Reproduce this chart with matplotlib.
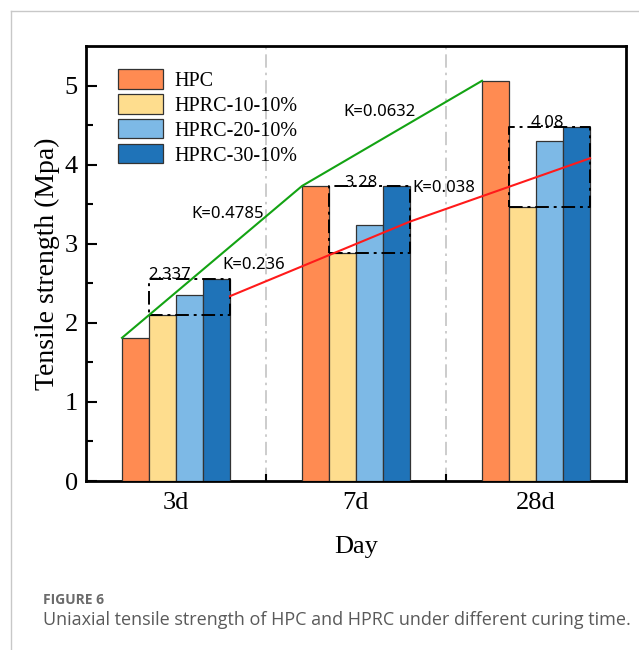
import numpy as np
import matplotlib
matplotlib.use('Agg')
import matplotlib.pyplot as plt
from matplotlib.lines import Line2D

# Data
days = ['3d', '7d', '28d']
day_num = [3, 7, 28]
series_names = ['HPC', 'HPRC-10-10%', 'HPRC-20-10%', 'HPRC-30-10%']
hpc = [1.81, 3.73, 5.06]
hprc_10 = [2.10, 2.88, 3.47]
hprc_20 = [2.35, 3.24, 4.30]
hprc_30 = [2.56, 3.73, 4.48]
hprc_mean_labels = ['2.337', '3.28', '4.08']
green_k = ['K=0.4785', 'K=0.0632']
red_k = ['K=0.236', 'K=0.038']

colors = ['#FF8B52', '#FEDD8E', '#7DB9E6', '#1F73B8']
serif = 'Liberation Serif'
sans = 'Noto Sans'

fig = plt.figure(figsize=(6.39, 6.50), dpi=100)
ax = fig.add_axes([86 / 639, 1 - 481 / 650, 540 / 639, 435 / 650])

x = np.arange(len(days))
width = 0.15
all_series = [hpc, hprc_10, hprc_20, hprc_30]
for i, (vals, c, name) in enumerate(zip(all_series, colors, series_names)):
    ax.bar(x + (i - 1.5) * width, vals, width, color=c, edgecolor='#333333',
           linewidth=0.9, label=name, zorder=3)

# group separators
for xs in [0.5, 1.5]:
    ax.axvline(xs, color='#c4c4c4', lw=1.2, ls=(0, (8, 3, 1.5, 3)), zorder=1)

# min-max boxes for HPRC groups
hprc = np.array([hprc_10, hprc_20, hprc_30])
hmin, hmax = hprc.min(axis=0), hprc.max(axis=0)
hmean = np.array([float(s) for s in hprc_mean_labels])
dd = (0, (7, 2.5, 1.5, 2.5))
for i in range(len(days)):
    x0, x1 = i - width, i + 2 * width
    ax.plot([x0, x1, x1, x0, x0], [hmin[i], hmin[i], hmax[i], hmax[i], hmin[i]],
            color='black', lw=1.4, ls=dd, zorder=4)

# trend lines
ax.plot(x - 2 * width, hpc, color='#13A313', lw=1.5, zorder=5)
ax.plot(x + 2 * width, hmean, color='#FF1A1A', lw=1.5, zorder=5)

# labels on boxes
box_lab_dx = [-0.11, -0.05, -0.01]
for i, lab in enumerate(hprc_mean_labels):
    ax.text(i + 0.075 + box_lab_dx[i], hmax[i] - 0.01, lab, ha='center', va='baseline',
            fontsize=12, family=sans, zorder=6)

k_pos = [(0.289, 3.37), (1.133, 4.66)]
for (kx, ky), lab in zip(k_pos, green_k):
    ax.text(kx, ky, lab, ha='center', va='center', fontsize=12, family=sans, zorder=6)
k_pos = [(0.433, 2.73), (1.489, 3.71)]
for (kx, ky), lab in zip(k_pos, red_k):
    ax.text(kx, ky, lab, ha='center', va='center', fontsize=12, family=sans, zorder=6)

ax.set_xlim(-0.5, 2.5)
ax.set_ylim(0, 5.5)
ax.set_xticks(x)
ax.set_xticklabels(days, family=serif, fontsize=19)
ax.set_xticks([0.5, 1.5], minor=True)
ax.set_yticks(range(6))
ax.set_yticklabels([str(v) for v in range(6)], family=serif, fontsize=19)
ax.set_yticks(np.arange(0.5, 5.5, 1.0), minor=True)
ax.tick_params(axis='x', which='major', length=0, pad=8)
ax.tick_params(axis='x', which='minor', direction='in', length=5, width=1.5)
ax.tick_params(axis='y', which='major', direction='in', length=8, width=1.5, pad=6)
ax.tick_params(axis='y', which='minor', direction='in', length=5, width=1.5)
for sp in ax.spines.values():
    sp.set_linewidth(2)
ax.set_xlabel('Day', family=serif, fontsize=19, labelpad=16)
ax.set_ylabel('Tensile strength (Mpa)', family=serif, fontsize=20, labelpad=3)

leg = ax.legend(loc='upper left', bbox_to_anchor=(0.045, 0.965), frameon=False,
                prop={'family': serif, 'size': 14.5}, handlelength=2.2, handleheight=1.1,
                labelspacing=0.17, handletextpad=0.6, borderaxespad=0)

# page decoration and caption
fig.add_artist(Line2D([11 / 639, 11 / 639], [0, 1 - 11 / 650], color='#c8c8c8', lw=1))
fig.add_artist(Line2D([11 / 639, 1], [1 - 11 / 650, 1 - 11 / 650], color='#c8c8c8', lw=1))
fig.text(43 / 639, 1 - 600 / 650, 'FIGURE 6', fontsize=10, fontweight='bold',
         color='#6b6b6b', family='Open Sans', va='center')
fig.text(43 / 639, 1 - 620 / 650,
         'Uniaxial tensile strength of HPC and HPRC under different curing time.',
         fontsize=13, color='#5a5a5a', family='Open Sans', va='center')

fig.savefig('out.png', dpi=100)
